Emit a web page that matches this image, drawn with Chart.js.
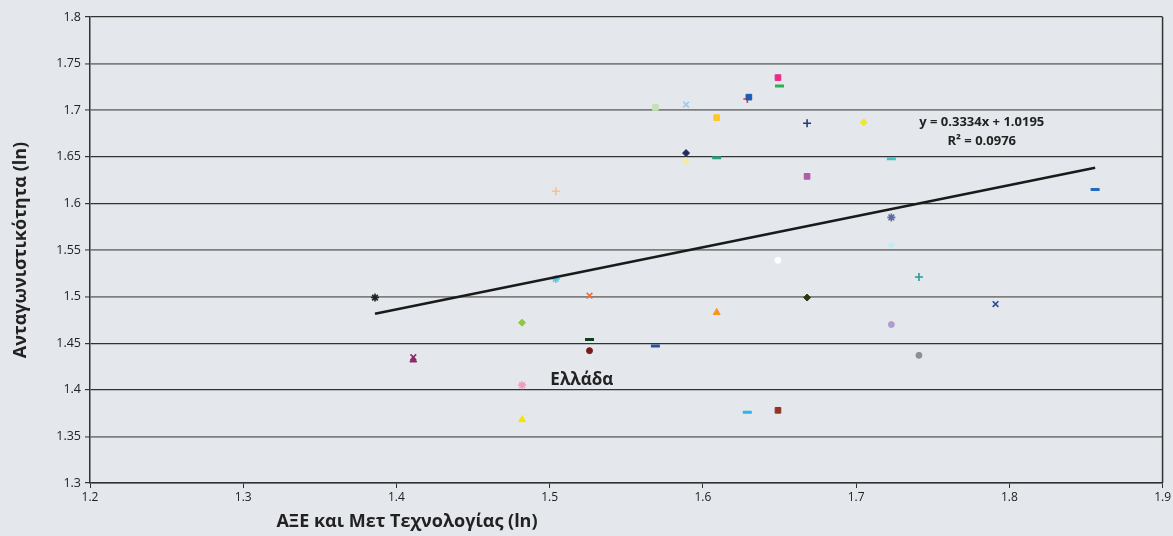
<!DOCTYPE html>
<html>
<head>
<meta charset="utf-8">
<script src="https://cdn.jsdelivr.net/npm/chart.js@4.4.1/dist/chart.umd.min.js"></script>
<style>
  html, body { margin: 0; padding: 0; background: #e4e7ec; }
  #wrap { width: 1173px; height: 536px; }
</style>
</head>
<body>
<div id="wrap"><canvas id="chart"></canvas></div>
<script>
// --- data ---
const xVals = [1.386, 1.411, 1.411, 1.482, 1.482, 1.482, 1.504, 1.504, 1.526, 1.526,
               1.526, 1.569, 1.569, 1.589, 1.589, 1.589, 1.609, 1.609, 1.609, 1.629,
               1.630, 1.629, 1.649, 1.650, 1.649, 1.649, 1.668, 1.668, 1.668, 1.705,
               1.723, 1.723, 1.723, 1.723, 1.741, 1.741, 1.791, 1.856];
const yVals = [1.499, 1.435, 1.432, 1.472, 1.405, 1.368, 1.613, 1.519, 1.501, 1.454,
               1.442, 1.703, 1.447, 1.706, 1.654, 1.645, 1.692, 1.649, 1.483, 1.712,
               1.714, 1.376, 1.735, 1.726, 1.539, 1.378, 1.686, 1.629, 1.499, 1.687,
               1.648, 1.585, 1.555, 1.470, 1.521, 1.437, 1.492, 1.615];

// trendline as printed on the chart
const trendSlope = 0.3334;
const trendIntercept = 1.0195;
const trendLabel = ['y = 0.3334x + 1.0195', 'R\u00b2 = 0.0976'];
const greeceLabel = 'Ελλάδα';
const xTitle = 'ΑΞΕ και Μετ Τεχνολογίας (ln)';
const yTitle = 'Ανταγωνιστικότητα (ln)';

// marker styles, one per point
const shapes = ['star', 'crossRot', 'triangle', 'rectRot', 'star', 'triangle', 'cross', 'star', 'crossRot', 'line',
                'circle', 'rect', 'line', 'crossRot', 'rectRot', 'triangle', 'rect', 'line', 'triangle', 'cross',
                'rect', 'line', 'rect', 'line', 'circle', 'rect', 'cross', 'rect', 'rectRot', 'rectRot',
                'line', 'star', 'rectRot', 'circle', 'cross', 'circle', 'crossRot', 'line'];
const colors = ['#222222', '#8b2a6b', '#8b2a6b', '#8dc63f', '#f49ac1', '#f2e600', '#f9c08f', '#5bc8e0', '#f26b3a', '#0b3d1e',
                '#7b1a1a', '#c5e0b4', '#2a52a0', '#9ac8ee', '#1f2d5c', '#f7eb9a', '#ffc726', '#2a9d7c', '#f7941d', '#e63b3b',
                '#1f5bb5', '#29b6e8', '#ec2a86', '#2eb04c', '#ffffff', '#953220', '#1f3f72', '#b05aa8', '#2a3a10', '#f2e52a',
                '#3ec4c9', '#5a6aa8', '#c7eaf2', '#b09ad0', '#2a9a9a', '#8a9099', '#2a4aa0', '#1f6bc0'];

const points = xVals.map((x, i) => ({ x: x, y: yVals[i] }));
const xMin = Math.min(...xVals), xMax = Math.max(...xVals);
const trend = [xMin, xMax].map(x => ({ x: x, y: trendSlope * x + trendIntercept }));

function markerSize(s) {
    if (s === 'line') return 4.5;
    if (s === 'circle') return 3;
    if (s === 'rectRot') return 3.5;
    return 4;
}
function markerWidth(s) {
    if (s === 'line') return 3;
    if (s === 'star' || s === 'cross' || s === 'crossRot') return 1.6;
    return 1;
}

// gridline look alternates in the scan
const gridDark = '#333333', gridGray = '#7f7f7f';
const yGridColors = [gridDark, gridGray, gridDark, gridDark, gridGray, gridGray, gridDark, gridDark, gridGray, gridGray, gridDark];

const annotations = {
    id: 'annotations',
    afterDatasetsDraw(chart) {
        const { ctx, chartArea, scales } = chart;
        ctx.save();
        // right border of plot
        ctx.strokeStyle = '#333';
        ctx.lineWidth = 1.5;
        ctx.beginPath();
        ctx.moveTo(chartArea.right, chartArea.top);
        ctx.lineTo(chartArea.right, chartArea.bottom);
        ctx.stroke();

        ctx.fillStyle = '#222';
        ctx.textAlign = 'center';
        ctx.textBaseline = 'middle';
        ctx.font = 'bold 13px "Open Sans", sans-serif';
        const tx = scales.x.getPixelForValue(1.782);
        ctx.fillText(trendLabel[0], tx, scales.y.getPixelForValue(1.6873));
        ctx.fillText(trendLabel[1], tx, scales.y.getPixelForValue(1.667));

        ctx.font = 'bold 17px "Open Sans", sans-serif';
        ctx.fillText(greeceLabel, scales.x.getPixelForValue(1.521), scales.y.getPixelForValue(1.4105));

        ctx.font = 'bold 18px "Open Sans", sans-serif';
        ctx.fillText(xTitle, 407, 522);
        ctx.restore();
    }
};

new Chart(document.getElementById('chart'), {
    type: 'scatter',
    data: {
        datasets: [{
            data: points,
            pointStyle: shapes,
            pointRadius: shapes.map(markerSize),
            pointHoverRadius: shapes.map(markerSize),
            pointBorderWidth: shapes.map(markerWidth),
            pointBackgroundColor: colors,
            pointBorderColor: colors,
            order: 1
        }, {
            type: 'line',
            data: trend,
            borderColor: '#1a1a1a',
            borderWidth: 2.5,
            pointRadius: 0,
            fill: false,
            order: 0
        }]
    },
    options: {
        responsive: true,
        maintainAspectRatio: false,
        animation: false,
        layout: { padding: { left: 0, right: 10, top: 17, bottom: 0 } },
        plugins: {
            legend: { display: false },
            tooltip: { enabled: false }
        },
        scales: {
            x: {
                type: 'linear',
                min: 1.2,
                max: 1.9,
                afterFit: s => { s.height = 53; },
                ticks: {
                    stepSize: 0.1,
                    color: '#222',
                    font: { family: '"Open Sans", sans-serif', size: 12 },
                    padding: 2,
                    callback: v => String(+v.toFixed(2))
                },
                grid: { drawOnChartArea: false, drawTicks: true, tickLength: 5, color: '#333' },
                border: { color: '#333', width: 1.5 }
            },
            y: {
                min: 1.3,
                max: 1.8,
                afterFit: s => { s.width = 90; },
                ticks: {
                    stepSize: 0.05,
                    color: '#222',
                    font: { family: '"Open Sans", sans-serif', size: 12.5 },
                    padding: 4,
                    callback: v => String(+v.toFixed(2))
                },
                grid: {
                    tickLength: 5,
                    color: c => yGridColors[c.index] || gridDark,
                    lineWidth: c => (yGridColors[c.index] === gridGray ? 1.8 : 1.2)
                },
                border: { color: '#333', width: 1.5 },
                title: {
                    display: true,
                    text: yTitle,
                    color: '#222',
                    font: { family: '"Open Sans", sans-serif', size: 18, weight: 'bold' },
                    padding: { top: 10, bottom: 0 }
                }
            }
        }
    },
    plugins: [annotations]
});
</script>
</body>
</html>
